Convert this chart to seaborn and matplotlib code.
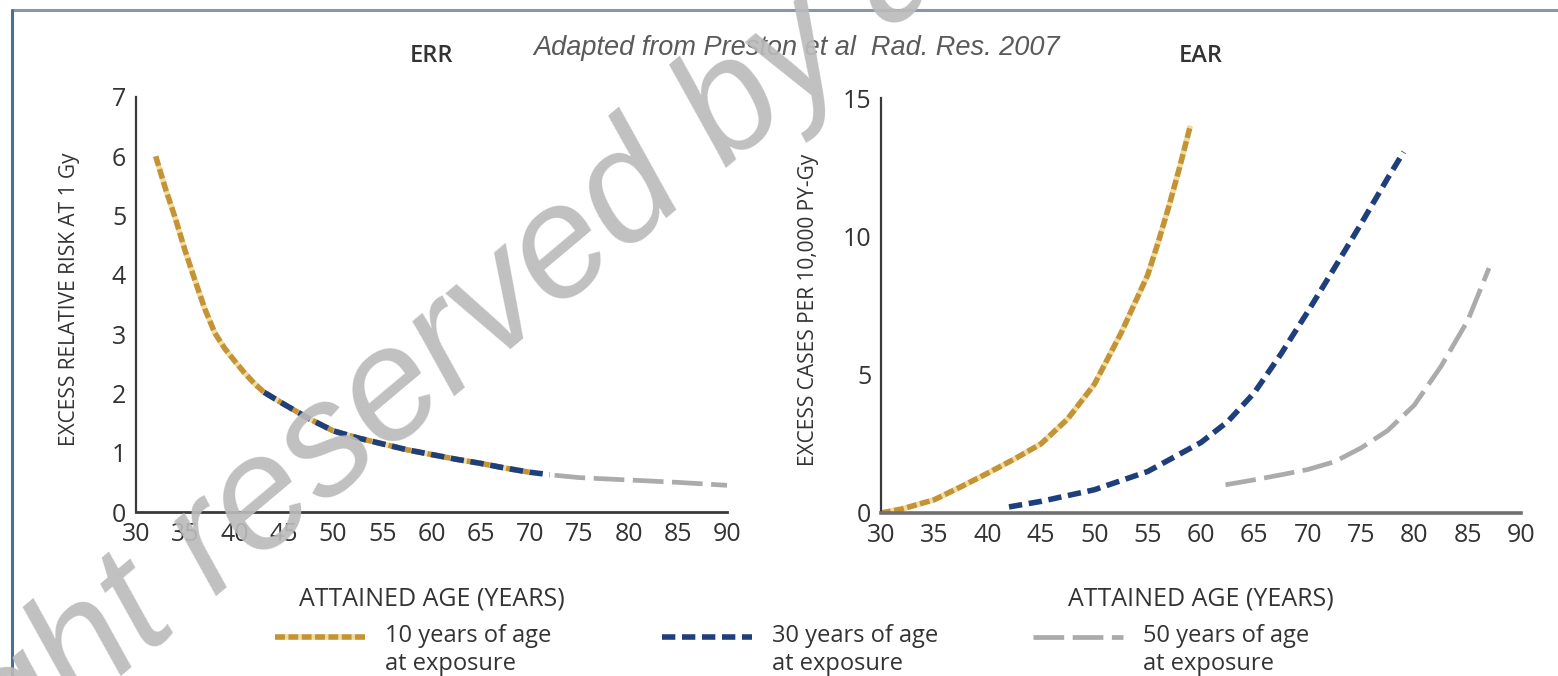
import matplotlib
matplotlib.use("Agg")
import matplotlib.pyplot as plt
import seaborn as sns
from matplotlib.lines import Line2D
from matplotlib.transforms import ScaledTranslation

# ---------------- data ----------------
ages_err_10 = [32, 33, 34, 35, 36, 37, 38, 39, 40, 41, 42, 43, 45, 47.5, 50, 52.5, 55, 57.5, 60, 62.5, 65, 67.5, 70]
err_10 = [6.0, 5.45, 4.95, 4.4, 3.9, 3.42, 3.02, 2.76, 2.55, 2.35, 2.17, 2.02, 1.82, 1.58, 1.37, 1.25, 1.15, 1.05, 0.97, 0.89, 0.82, 0.74, 0.67]
ages_err_30 = [43, 45, 47.5, 50, 52.5, 55, 57.5, 60, 62.5, 65, 67.5, 70, 72]
err_30 = [2.02, 1.82, 1.58, 1.37, 1.25, 1.15, 1.05, 0.97, 0.89, 0.82, 0.74, 0.67, 0.63]
ages_err_50 = [72.5, 75, 80, 85, 90]
err_50 = [0.62, 0.58, 0.54, 0.50, 0.45]

ages_ear_10 = [30, 32, 35, 37.5, 40, 42.5, 45, 47.5, 50, 52.5, 55, 56, 57, 58, 59]
ear_10 = [0.0, 0.15, 0.48, 0.95, 1.44, 1.95, 2.5, 3.4, 4.65, 6.5, 8.6, 9.8, 11.1, 12.5, 14.0]
ages_ear_30 = [42, 45, 50, 55, 60, 62.5, 65, 67.5, 70, 72.5, 75, 77.5, 79]
ear_30 = [0.22, 0.42, 0.84, 1.5, 2.55, 3.3, 4.35, 5.75, 7.27, 8.85, 10.45, 12.1, 13.05]
ages_ear_50 = [62.3, 65, 67.5, 70, 72.5, 75, 77.5, 80, 82.5, 85, 87]
ear_50 = [1.02, 1.2, 1.38, 1.57, 1.85, 2.35, 2.98, 3.9, 5.3, 6.95, 8.85]

series_labels = ["10 years of age\nat exposure", "30 years of age\nat exposure", "50 years of age\nat exposure"]
x_ticks = list(range(30, 91, 5))
err_ticks = list(range(0, 8))
ear_ticks = [0, 5, 10, 15]

# ---------------- style ----------------
sns.set_theme(style="white")
plt.rcParams['font.family'] = ['Open Sans', 'DejaVu Sans']

W, H = 1558, 676
fig = plt.figure(figsize=(W / 100, H / 100), dpi=100)
fig.patch.set_facecolor("white")

ax1 = fig.add_axes([136 / W, 1 - 512 / H, 591 / W, 415 / H])
ax2 = fig.add_axes([881 / W, 1 - 513 / H, 640 / W, 415 / H])

ORANGE = "#C49335"
ORANGE_GAP = "#F1DC9A"
BLUE = "#1E3F7C"
GRAY = "#ABABAB"
TXT = "#333333"


def draw(ax, x, y, color, lw, dash, gap=None, label=None, z=2):
    sns.lineplot(x=x, y=y, ax=ax, color=color, linewidth=lw, linestyle=(0, dash),
                 legend=False, label=label, zorder=z, estimator=None, sort=False)
    line = ax.lines[-1]
    if gap is not None:
        line.set_gapcolor(gap)
    line.set_dash_capstyle("butt")
    return line


h10 = draw(ax1, ages_err_10, err_10, ORANGE, 4.0, (1.8, 0.6), ORANGE_GAP, series_labels[0], 2)
h30 = draw(ax1, ages_err_30, err_30, BLUE, 4.0, (2.4, 1.2), None, series_labels[1], 3)
h50 = draw(ax1, ages_err_50, err_50, GRAY, 3.4, (6.5, 1.8), None, series_labels[2], 2)

draw(ax2, ages_ear_10, ear_10, ORANGE, 4.0, (1.8, 0.6), ORANGE_GAP, None, 2)
draw(ax2, ages_ear_30, ear_30, BLUE, 4.0, (2.4, 1.2), None, None, 3)
draw(ax2, ages_ear_50, ear_50, GRAY, 3.4, (6.5, 1.8), None, None, 2)

for ax, ymax, yt in [(ax1, 7, err_ticks), (ax2, 15, ear_ticks)]:
    ax.set_xlim(30, 90)
    ax.set_ylim(0, ymax)
    ax.set_xticks(x_ticks)
    ax.set_yticks(yt)
    ax.set_facecolor("none")
    sns.despine(ax=ax)
    ax.spines["left"].set_color("#3a3a3a")
    ax.spines["left"].set_linewidth(1.6)
    ax.spines["bottom"].set_color("#3a3a3a")
    ax.spines["bottom"].set_linewidth(2.0)
    ax.tick_params(direction="out", length=3.6, width=1.2, colors=TXT, labelsize=18, pad=3.5)
    ax.grid(False)

ax2.spines["bottom"].set_color("#707070")
ax2.spines["bottom"].set_linewidth(2.6)

ax1.set_xlabel("ATTAINED AGE (YEARS)", fontsize=18, color=TXT)
ax2.set_xlabel("ATTAINED AGE (YEARS)", fontsize=18, color=TXT)
ax1.xaxis.set_label_coords(0.5, (512 - 587) / 415)
ax2.xaxis.set_label_coords(0.5, (513 - 587) / 415)

ax1.set_ylabel("EXCESS RELATIVE RISK AT 1 Gy", fontsize=15, color=TXT)
ax2.set_ylabel("EXCESS CASES PER 10,000 PY-Gy", fontsize=15, color=TXT)
ax1.yaxis.set_label_coords((80 - 136) / 591, 0.513)
ax2.yaxis.set_label_coords((819 - 881) / 640, 0.49)

ax1.text(0.5, (512 - 62) / 415, "ERR", transform=ax1.transAxes, ha="center", va="baseline",
         fontsize=17, fontweight="semibold", color=TXT)
ax2.text(0.5, (513 - 62) / 415, "EAR", transform=ax2.transAxes, ha="center", va="baseline",
         fontsize=17, fontweight="semibold", color=TXT)

fig.text(797 / W, 1 - 55 / H, "Adapted from Preston et al  Rad. Res. 2007",
         ha="center", va="baseline", fontsize=19.5, style="italic", color="#5a5a5a",
         family=["Liberation Sans", "DejaVu Sans"])

# legend (three entries placed along the bottom)
for hnd, lab, x0 in zip([h10, h30, h50], series_labels, [275, 662, 1033]):
    leg = fig.legend([hnd], [lab], loc="upper left", bbox_to_anchor=(x0 / W, 1 - 624 / H),
                     frameon=False, fontsize=17, handlelength=3.8, handletextpad=0.85,
                     borderpad=0, borderaxespad=0)
    for t in leg.get_texts():
        t.set_color(TXT)
        t.set_linespacing(1.2)
    # align the sample line with the first text line, as in the reference
    for lh in leg.legend_handles:
        lh.set_transform(lh.get_transform() + ScaledTranslation(0, 0.14, fig.dpi_scale_trans))

# frame lines of the original slide
fig.add_artist(Line2D([12 / W, 1], [1 - 10 / H, 1 - 10 / H], transform=fig.transFigure,
                      color="#8C96A3", linewidth=2.2))
fig.add_artist(Line2D([12 / W, 12 / W], [0, 1 - 10 / H], transform=fig.transFigure,
                      color="#4F6F91", linewidth=2.2))

# watermark of the reference image
fig.text(-343 / W, 1 - 1066 / H, "Copyright reserved by author", rotation=40,
         rotation_mode="anchor", ha="left", va="baseline", fontsize=115, style="italic",
         color="#BBBBBB", alpha=0.92, zorder=10, family=["Liberation Sans", "DejaVu Sans"])

fig.savefig("out.png", dpi=100, facecolor="white")
